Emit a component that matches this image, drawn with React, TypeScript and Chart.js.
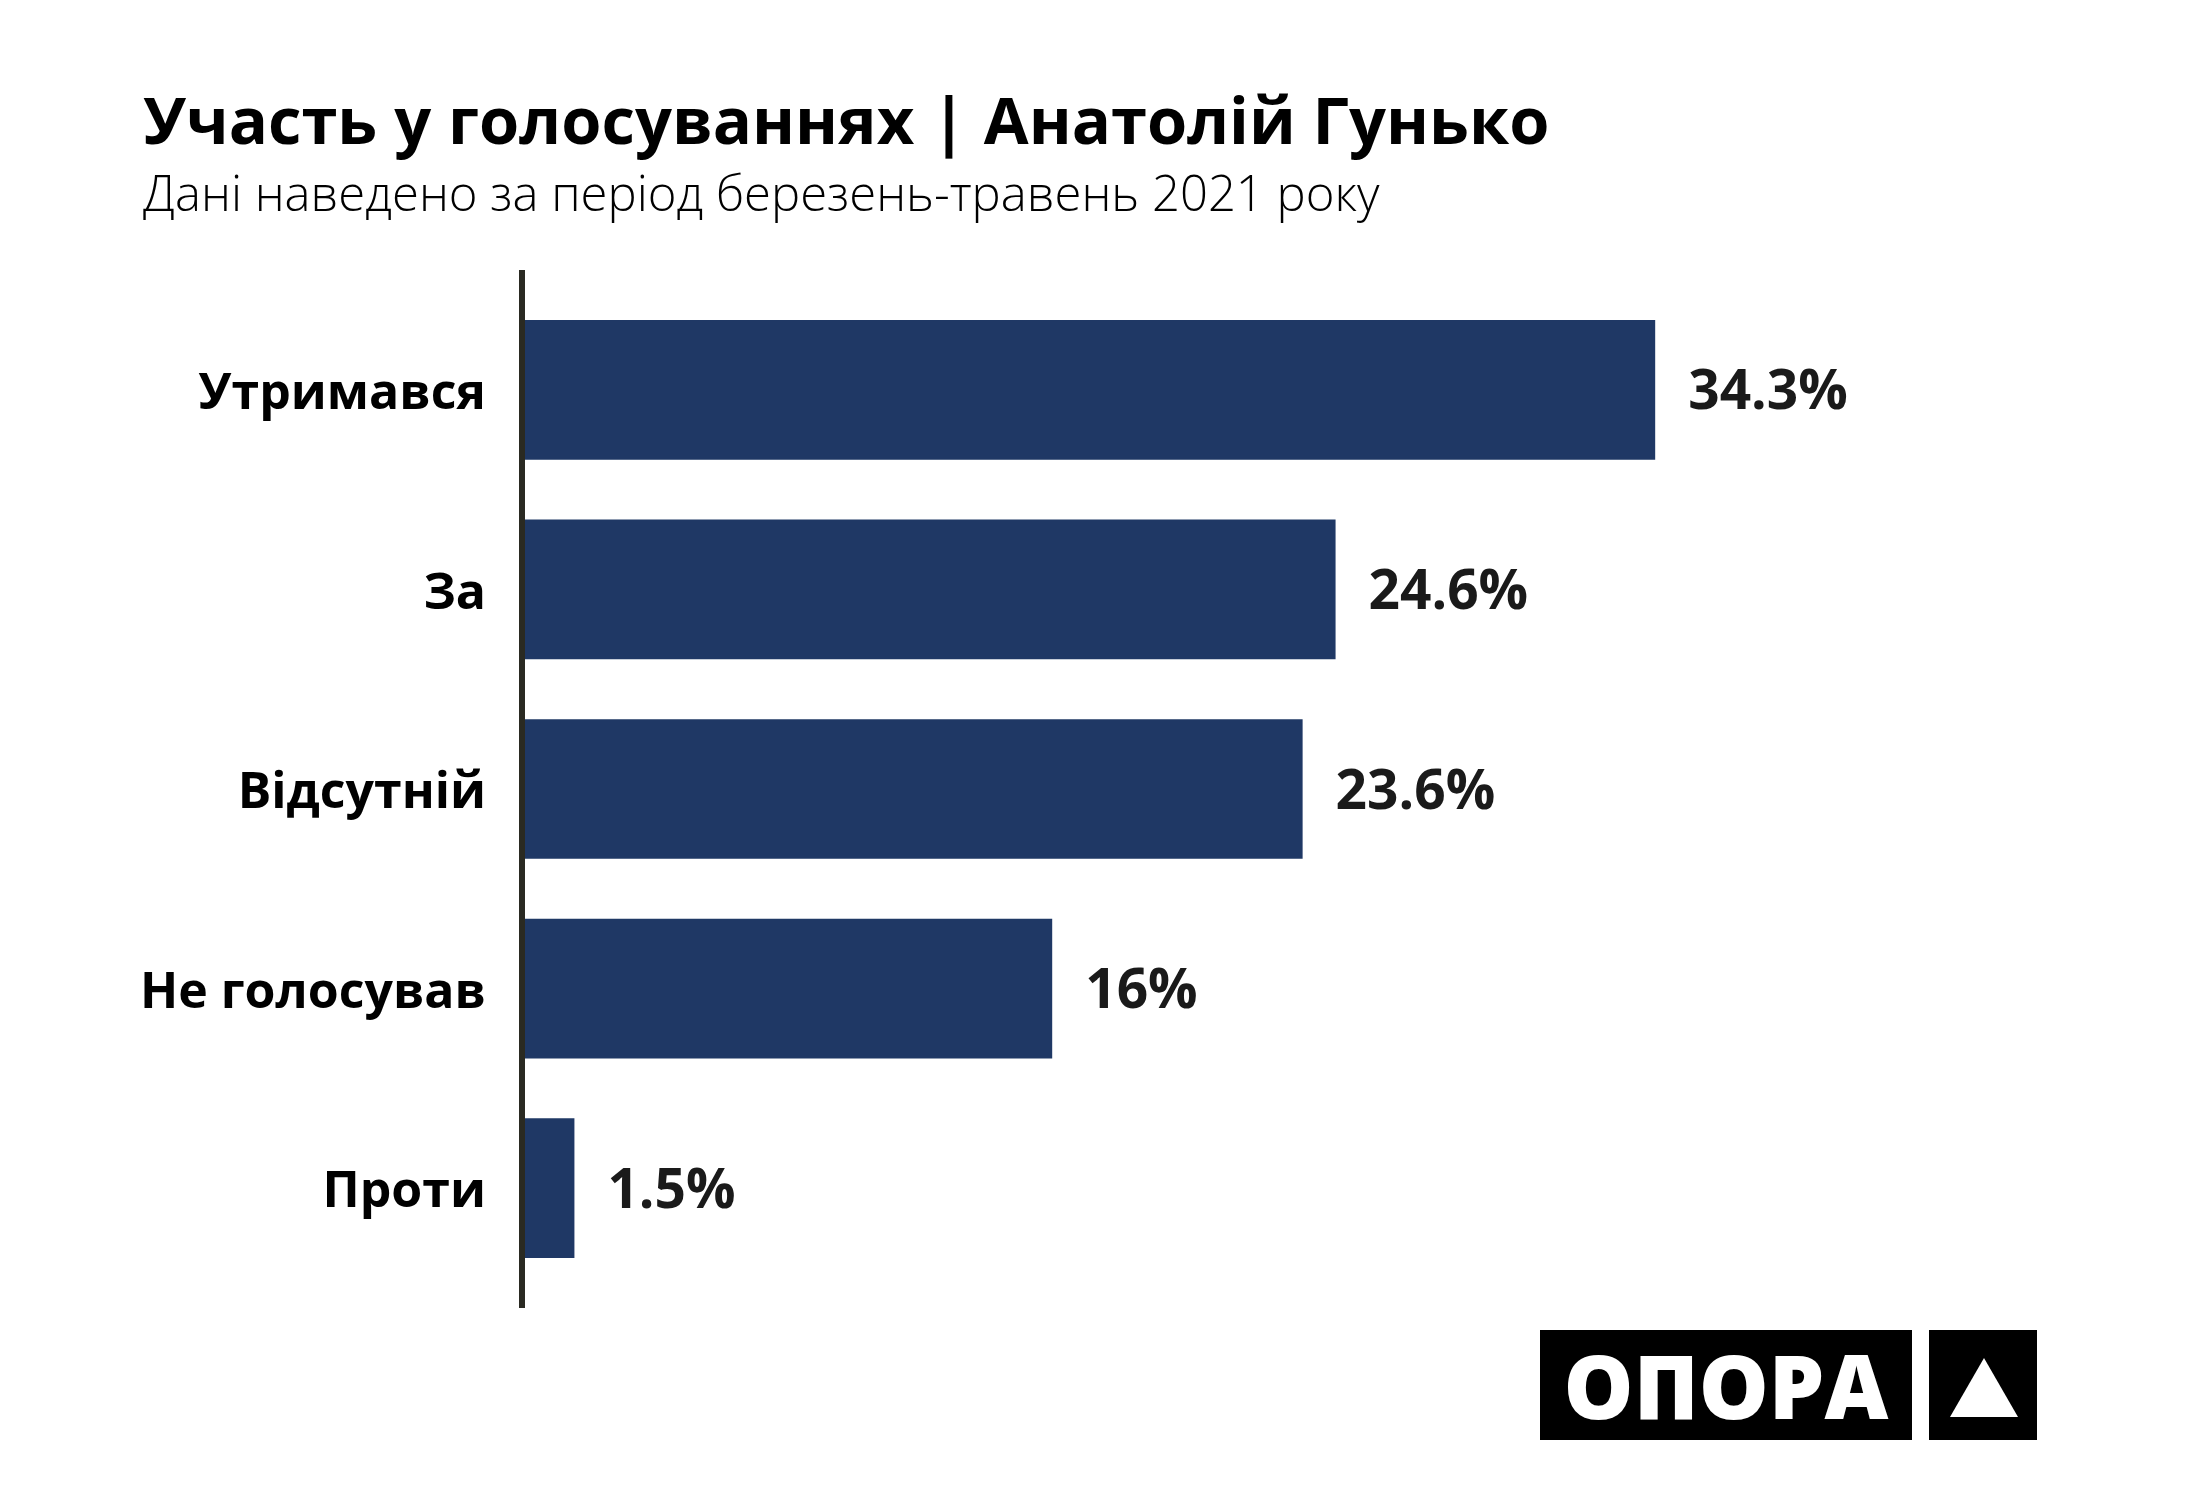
import React, { useEffect, useRef } from "react";
import { Chart, registerables } from "chart.js";

Chart.register(...registerables);

const categories = ["Утримався", "За", "Відсутній", "Не голосував", "Проти"];
const values = [34.3, 24.6, 23.6, 16, 1.5];
const titleText = "Участь у голосуваннях | Анатолій Гунько";
const subtitleText = "Дані наведено за період березень-травень 2021 року";
const logoText = "ОПОРА";
const xMax = 40;

const BAR_COLOR = "#1f3865";
const AXIS_COLOR = "#2a2a22";
const FONT = "'Open Sans', 'Noto Sans', sans-serif";
const LABEL_SIZE = 50;
const VALUE_SIZE = 55;

export default function App() {
  const canvasRef = useRef<HTMLCanvasElement | null>(null);

  useEffect(() => {
    if (!canvasRef.current) return;

    const axisLine = {
      id: "axisLine",
      beforeDatasetsDraw(chart: any) {
        const { ctx, chartArea: a } = chart;
        ctx.save();
        ctx.fillStyle = AXIS_COLOR;
        ctx.fillRect(a.left - 6, a.top - 20, 6, a.bottom - a.top + 40);
        ctx.restore();
      },
    };

    const valueLabels = {
      id: "valueLabels",
      afterDatasetsDraw(chart: any) {
        const { ctx } = chart;
        const meta = chart.getDatasetMeta(0);
        ctx.save();
        ctx.font = `700 ${VALUE_SIZE}px ${FONT}`;
        ctx.fillStyle = "#1a1a1a";
        ctx.textAlign = "left";
        ctx.textBaseline = "alphabetic";
        meta.data.forEach((el: any, i: number) => {
          ctx.fillText(`${values[i]}%`, el.x + 33, el.y + VALUE_SIZE * 0.357);
        });
        ctx.restore();
      },
    };

    const chart = new Chart(canvasRef.current, {
      type: "bar",
      data: {
        labels: categories,
        datasets: [
          {
            data: values,
            backgroundColor: BAR_COLOR,
            barPercentage: 0.7,
            categoryPercentage: 1,
          },
        ],
      },
      options: {
        indexAxis: "y",
        responsive: false,
        animation: false,
        devicePixelRatio: 1,
        layout: { padding: { top: 290, bottom: 212, left: 0, right: 357 } },
        plugins: {
          legend: { display: false },
          tooltip: { enabled: false },
        },
        scales: {
          x: { display: false, min: 0, max: xMax },
          y: {
            grid: { display: false, drawTicks: false },
            border: { display: false },
            ticks: {
              color: "#000",
              padding: 39,
              labelOffset: 5,
              font: { family: FONT, size: LABEL_SIZE, weight: "bold" },
            },
            afterFit: (scale: any) => {
              scale.width = 525;
            },
          },
        },
      },
      plugins: [axisLine, valueLabels],
    } as any);

    return () => chart.destroy();
  }, []);

  return (
    <div
      style={{
        position: "absolute",
        left: 0,
        top: 0,
        width: 2200,
        height: 1500,
        background: "#fff",
        overflow: "hidden",
        fontFamily: FONT,
      }}
    >
      <canvas
        ref={canvasRef}
        width={2200}
        height={1500}
        style={{ position: "absolute", left: 0, top: 0, width: 2200, height: 1500 }}
      />
      <div
        style={{
          position: "absolute",
          left: 143,
          top: 87,
          fontSize: 65,
          lineHeight: 1,
          fontWeight: 700,
          color: "#000",
          whiteSpace: "nowrap",
        }}
      >
        {titleText}
      </div>
      <div
        style={{
          position: "absolute",
          left: 143,
          top: 168,
          fontSize: 49,
          lineHeight: 1,
          fontWeight: 300,
          color: "#000",
          whiteSpace: "nowrap",
        }}
      >
        {subtitleText}
      </div>
      <div
        style={{
          position: "absolute",
          left: 1540,
          top: 1330,
          width: 372,
          height: 110,
          background: "#000",
          color: "#fff",
          display: "flex",
          alignItems: "center",
          justifyContent: "center",
          fontSize: 88,
          fontWeight: 800,
          lineHeight: 1,
        }}
      >
        {logoText}
      </div>
      <div
        style={{
          position: "absolute",
          left: 1929,
          top: 1330,
          width: 108,
          height: 110,
          background: "#000",
        }}
      >
        <svg width={108} height={110} style={{ display: "block" }}>
          <polygon points="55,28 89,87 21,87" fill="#fff" />
        </svg>
      </div>
    </div>
  );
}
